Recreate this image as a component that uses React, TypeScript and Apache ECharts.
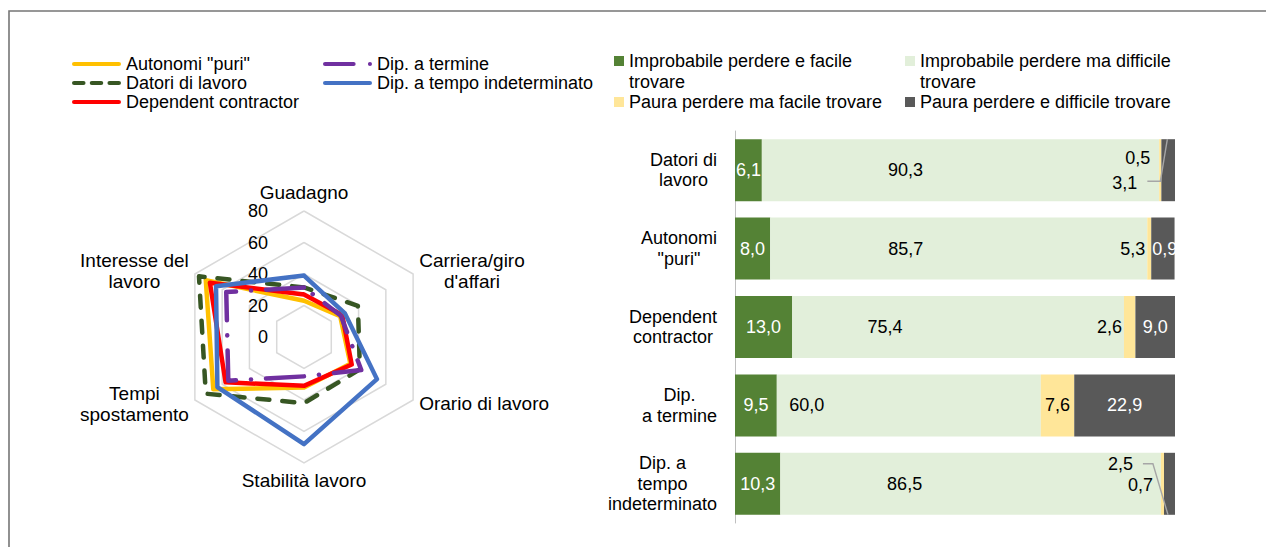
import React, { useEffect, useRef } from 'react';
import * as echarts from 'echarts';

const FONT = '"Liberation Sans", Arial, Helvetica, sans-serif';

// ---------- Radar data ----------
const radarAxes = ['Guadagno', 'Interesse del\nlavoro', 'Tempi\nspostamento', 'Stabilità lavoro', 'Orario di lavoro', "Carriera/giro\nd'affari"];
const radarTicks = [0, 20, 40, 60, 80];
const radarSeriesNames = ['Autonomi "puri"', 'Datori di lavoro', 'Dependent contractor', 'Dip. a termine', 'Dip. a tempo indeterminato'];
const autonomiPuri = [23, 72, 66.5, 32, 34, 26.5];
const datoriDiLavoro = [31.5, 77, 72, 42, 41, 39.5];
const dependentContractor = [27, 69, 57.5, 31, 35, 28];
const dipATermine = [31.5, 57, 55.5, 25, 42, 27];
const dipTempoIndeterminato = [39, 64.5, 63.5, 68, 53.5, 30];

// ---------- Bar data ----------
const barCategories = ['Datori di\nlavoro', 'Autonomi\n"puri"', 'Dependent\ncontractor', 'Dip.\na termine', 'Dip. a\ntempo\nindeterminato'];
const barSeriesNames = [
  'Improbabile perdere e facile\ntrovare',
  'Improbabile perdere ma difficile\ntrovare',
  'Paura perdere ma facile trovare',
  'Paura perdere e difficile trovare',
];
const improbabileFacile = [6.1, 8.0, 13.0, 9.5, 10.3];
const improbabileDifficile = [90.3, 85.7, 75.4, 60.0, 86.5];
const pauraFacile = [0.5, 0.9, 2.6, 7.6, 0.7];
const pauraDifficile = [3.1, 5.3, 9.0, 22.9, 2.5];
const pauraFacileLabels = ['0,5', '5,3', '2,6', '7,6', '0,7'];
const pauraDifficileLabels = ['3,1', '0,9', '9,0', '22,9', '2,5'];

const fmt = (v: number) => v.toFixed(1).replace('.', ',');
const centerRich = (s: string) => s.split('\n').map((l) => `{c|${l}}`).join('\n');

const piece = (x: number, w: number) => `M${x + 2},0h${w - 4}a2,2 0 0 1 0,4h${-(w - 4)}a2,2 0 0 1 0,-4z`;
const iconSolid = 'path://' + piece(0, 48);
const iconDashed = 'path://' + piece(0, 13) + piece(17, 13) + piece(34, 13);
const iconDashDot = 'path://' + piece(0, 32) + piece(44, 4);

export default function App() {
  const ref = useRef<HTMLDivElement>(null);

  useEffect(() => {
    document.body.style.margin = '0';
    document.body.style.overflow = 'hidden';
    if (!ref.current) return;
    const chart = echarts.init(ref.current, undefined, { renderer: 'svg' });

    const radarValues = [autonomiPuri, datoriDiLavoro, dependentContractor, dipATermine, dipTempoIndeterminato];
    const radarColors = ['#FFC000', '#375623', '#FF0000', '#7030A0', '#4472C4'];
    const radarDash: any[] = ['solid', [12, 13], 'solid', [38, 15, 0.1, 15], 'solid'];
    const radarIcons = [iconSolid, iconDashed, iconSolid, iconDashDot, iconSolid];

    const legendText = { fontSize: 18, fontFamily: FONT, color: '#000', lineHeight: 19 };
    const leftLegend = (idx: number[], left: number) => ({
      orient: 'vertical',
      left,
      top: 54.5,
      padding: 0,
      itemWidth: 49,
      itemHeight: 5,
      itemGap: 0,
      selectedMode: false,
      itemStyle: { borderWidth: 0 },
      textStyle: legendText,
      data: idx.map((i) => ({ name: radarSeriesNames[i], icon: radarIcons[i], itemStyle: { color: radarColors[i], borderWidth: 0 } })),
    });

    const barColors = ['#548235', '#E2EFDA', '#FFE699', '#595959'];
    const rightLegendPos = [
      [614, 51],
      [905, 51],
      [614, 92],
      [905, 92],
    ];
    const rightLegends = barSeriesNames.map((n, i) => ({
      left: rightLegendPos[i][0],
      top: rightLegendPos[i][1],
      padding: 0,
      itemWidth: 10,
      itemHeight: 10,
      selectedMode: false,
      textStyle: { fontSize: 18, fontFamily: FONT, color: '#000', lineHeight: 20 },
      formatter: (name: string) => name.split('\n')[0],
      data: [{ name: n, icon: 'rect', itemStyle: { color: barColors[i] } }],
    }));
    const baseGraphic: any[] = [
      {
        type: 'rect',
        shape: { x: 9, y: 11, width: 1400, height: 700 },
        style: { fill: 'none', stroke: '#767676', lineWidth: 1.6 },
        silent: true,
      },
    ];
    barSeriesNames.forEach((n, i) => {
      const parts = n.split('\n');
      if (parts.length > 1) {
        baseGraphic.push({
          type: 'text',
          x: rightLegendPos[i][0] + 15,
          y: rightLegendPos[i][1] + 30.5,
          style: { text: parts[1], fontSize: 18, fontFamily: FONT, fill: '#000', textVerticalAlign: 'middle' },
          silent: true,
        });
      }
    });

    const labelBase = { show: true, fontSize: 18, fontFamily: FONT };
    const lightDx = [-55, -53, -73, -102, -66];
    const yellowLabelCfg: any[] = [
      { position: 'left', distance: 9 },
      { position: 'left', distance: 2 },
      { position: 'left', distance: 2 },
      { position: 'inside' },
      { position: 'left', distance: 8 },
    ];
    const yellowDy = [-12, 0, 0, 0, 1];
    const darkLabelCfg: any[] = [
      { position: 'left', distance: 24, color: '#000' },
      { position: 'insideLeft', distance: 1, color: '#fff' },
      { position: 'inside', color: '#fff' },
      { position: 'inside', color: '#fff' },
      { position: 'left', distance: 31, color: '#000' },
    ];
    const darkDy = [13, 0, 0, 0, -20];

    const option: any = {
      animation: false,
      textStyle: { fontFamily: FONT },
      graphic: baseGraphic,
      legend: [leftLegend([0, 1, 2], 72), leftLegend([3, 4], 323), ...rightLegends],
      radar: {
        center: [304, 337],
        radius: 126,
        startAngle: 90,
        shape: 'polygon',
        splitNumber: radarTicks.length - 1,
        indicator: radarAxes.map((name, i) => ({
          name,
          min: radarTicks[0],
          max: radarTicks[radarTicks.length - 1],
          ...(i === 0 ? { axisLabel: { show: true } } : {}),
        })),
        nameGap: 7,
        axisName: {
          color: '#000',
          fontSize: 19,
          fontFamily: FONT,
          formatter: (n: string) => centerRich(n),
          rich: { c: { align: 'center', fontSize: 19, fontFamily: FONT, color: '#000', lineHeight: 21 } },
        },
        axisLine: { show: false },
        axisTick: { show: false },
        axisLabel: { show: false, color: '#000', fontSize: 18, fontFamily: FONT, margin: 36 },
        splitLine: { lineStyle: { color: '#d9d9d9', width: 1.5 } },
        splitArea: { show: false },
      },
      grid: { left: 735, right: 91, top: 131, bottom: 24 },
      xAxis: { type: 'value', min: 0, max: 100, show: false },
      yAxis: {
        type: 'category',
        inverse: true,
        data: barCategories,
        axisLine: { show: true, lineStyle: { color: '#bfbfbf', width: 1 } },
        axisTick: { show: false },
        axisLabel: {
          margin: 18,
          formatter: (v: string) => centerRich(v),
          rich: { c: { align: 'center', fontSize: 18, fontFamily: FONT, color: '#000', lineHeight: 20.5 } },
        },
      },
      series: [
        ...radarSeriesNames.map((name, i) => ({
          type: 'radar',
          name,
          symbol: 'none',
          itemStyle: { color: radarColors[i] },
          lineStyle: { color: radarColors[i], width: 4.5, type: radarDash[i], cap: 'round' },
          data: [{ name, value: radarValues[i] }],
        })),
        {
          type: 'bar',
          name: barSeriesNames[0],
          stack: 'tot',
          barWidth: 62,
          itemStyle: { color: barColors[0] },
          label: { ...labelBase, position: 'inside', color: '#fff', formatter: (p: any) => fmt(p.value) },
          data: improbabileFacile,
        },
        {
          type: 'bar',
          name: barSeriesNames[1],
          stack: 'tot',
          barWidth: 62,
          itemStyle: { color: barColors[1] },
          label: { ...labelBase, position: 'inside', color: '#000', formatter: (p: any) => fmt(p.value) },
          data: improbabileDifficile.map((v, i) => ({ value: v, label: { offset: [lightDx[i], 0] } })),
        },
        {
          type: 'bar',
          name: barSeriesNames[2],
          stack: 'tot',
          barWidth: 62,
          itemStyle: { color: barColors[2] },
          label: { ...labelBase, color: '#000', formatter: (p: any) => pauraFacileLabels[p.dataIndex] },
          labelLayout: (p: any) => (yellowDy[p.dataIndex] ? { dy: yellowDy[p.dataIndex] } : {}),
          data: pauraFacile.map((v, i) => ({ value: v, label: yellowLabelCfg[i] })),
        },
        {
          type: 'bar',
          name: barSeriesNames[3],
          stack: 'tot',
          barWidth: 62,
          itemStyle: { color: barColors[3] },
          label: { ...labelBase, formatter: (p: any) => pauraDifficileLabels[p.dataIndex] },
          labelLayout: (p: any) => (darkDy[p.dataIndex] ? { dy: darkDy[p.dataIndex] } : {}),
          data: pauraDifficile.map((v, i) => ({ value: v, label: darkLabelCfg[i] })),
        },
      ],
    };

    chart.setOption(option);

    // Leader lines for the two small dark segments, placed from the axis scales
    const half = 31;
    const toPx = (v: number, idx: number) => chart.convertToPixel({ gridIndex: 0 }, [v, idx]) as number[];
    const start = (idx: number) => improbabileFacile[idx] + improbabileDifficile[idx];
    const leaderStyle = { stroke: '#a6a6a6', lineWidth: 1.4, fill: null };
    const d0 = toPx(start(0) + pauraFacile[0], 0);
    const p4y = toPx(start(4), 4);
    const d4 = toPx(start(4) + pauraFacile[4], 4);
    const leaders: any[] = [
      {
        type: 'polyline',
        silent: true,
        z: 100,
        shape: { points: [[d0[0] - 14, d0[1] + 11], [d0[0] - 1, d0[1] + 11], [d0[0] + 6, d0[1] - half]] },
        style: leaderStyle,
      },
      {
        type: 'polyline',
        silent: true,
        z: 100,
        shape: { points: [[p4y[0] - 18, p4y[1] - 20], [p4y[0] - 8, p4y[1] - 20], [d4[0] + 4, d4[1] + half]] },
        style: leaderStyle,
      },
    ];
    chart.setOption({ graphic: [...baseGraphic, ...leaders] });

    return () => chart.dispose();
  }, []);

  return <div ref={ref} style={{ width: 1266, height: 547 }} />;
}
